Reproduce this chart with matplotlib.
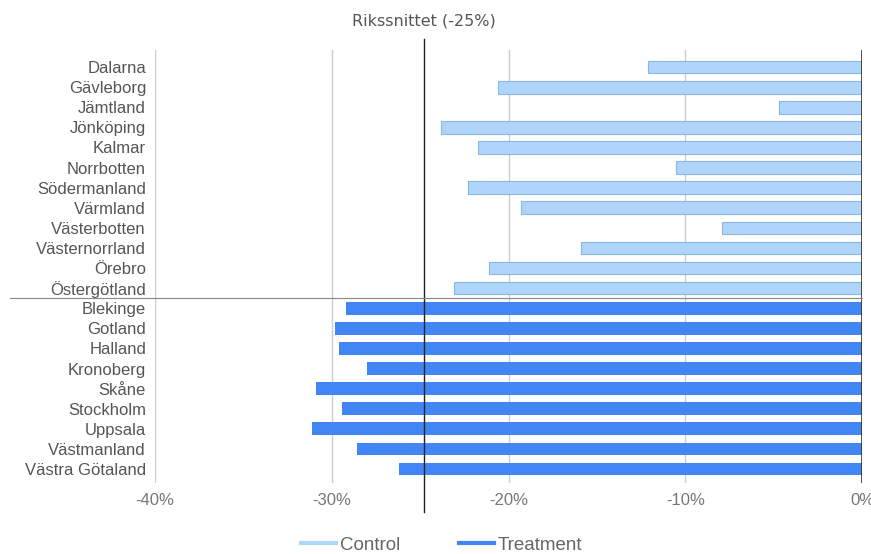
import matplotlib.pyplot as plt
import matplotlib.transforms as mtransforms
from matplotlib.lines import Line2D

# Data
control_lan = ["Dalarna", "Gävleborg", "Jämtland", "Jönköping", "Kalmar", "Norrbotten",
               "Södermanland", "Värmland", "Västerbotten", "Västernorrland", "Örebro",
               "Östergötland"]
control_val = [-12.1, -20.6, -4.7, -23.8, -21.7, -10.5, -22.3, -19.3, -7.9, -15.9, -21.1, -23.1]

treatment_lan = ["Blekinge", "Gotland", "Halland", "Kronoberg", "Skåne", "Stockholm",
                 "Uppsala", "Västmanland", "Västra Götaland"]
treatment_val = [-29.2, -29.8, -29.6, -28.0, -30.9, -29.4, -31.1, -28.6, -26.2]

rikssnitt = -24.8
rikssnitt_label = "Rikssnittet (-25%)"
xticks = [-40, -30, -20, -10, 0]

C_LIGHT = "#b0d5fa"
C_LIGHT_EDGE = "#86b6ec"
C_DARK = "#4285f4"

plt.rcParams["font.family"] = ["Liberation Sans", "DejaVu Sans"]

fig = plt.figure(figsize=(8.71, 5.54), dpi=100)
ax = fig.add_axes([0.178, 0.128, 0.8117, 0.7817])

n_c = len(control_lan)
pos_c = list(range(n_c))
pos_t = list(range(n_c, n_c + len(treatment_lan)))

ax.barh(pos_c, control_val, height=0.63, color=C_LIGHT, edgecolor=C_LIGHT_EDGE,
        linewidth=0.8, zorder=3)
ax.barh(pos_t, treatment_val, height=0.63, color=C_DARK, zorder=3)

ax.set_xlim(-40, 0)
ax.set_ylim(len(pos_c) + len(pos_t) - 0.3, -0.85)
ax.set_yticks(pos_c + pos_t)
ax.set_yticklabels(control_lan + treatment_lan, fontsize=12, color="#555555")
ax.set_xticks(xticks)
ax.set_xticklabels([f"{v}%" for v in xticks], fontsize=12, color="#777777")
ax.tick_params(axis="both", length=0)
ax.tick_params(axis="x", pad=7)
ax.tick_params(axis="y", pad=6.5)

for s in ax.spines.values():
    s.set_visible(False)

for v in xticks[:-1]:
    ax.axvline(v, color="#cccccc", lw=1, zorder=1)
ax.axvline(0, color="#333333", lw=1.2, zorder=4)

# rikssnitt line extending beyond axes
tr = mtransforms.blended_transform_factory(ax.transData, ax.transAxes)
ax.add_line(Line2D([rikssnitt, rikssnitt], [-0.067, 1.025], transform=tr,
                   color="#222222", lw=1, clip_on=False, zorder=5))
tr_title = mtransforms.blended_transform_factory(ax.transData, fig.transFigure)
ax.text(rikssnitt, 0.962, rikssnitt_label, transform=tr_title, ha="center", va="center",
        fontsize=11.5, color="#555555", family="DejaVu Sans", clip_on=False)

# separator between groups
tr2 = mtransforms.blended_transform_factory(ax.transAxes, ax.transData)
ax.add_line(Line2D([-0.205, 1.0], [n_c - 0.5, n_c - 0.5], transform=tr2,
                   color="#888888", lw=0.8, clip_on=False, zorder=5))

handles = [Line2D([], [], color=C_LIGHT, lw=3), Line2D([], [], color=C_DARK, lw=3)]
fig.legend(handles, ["Control", "Treatment"], loc="center", bbox_to_anchor=(0.507, 0.016),
           ncol=2, frameon=False, fontsize=13.5, labelcolor="#666666", handlelength=1.9,
           handletextpad=0.2, columnspacing=3.1)

fig.savefig("out.png", dpi=100)
